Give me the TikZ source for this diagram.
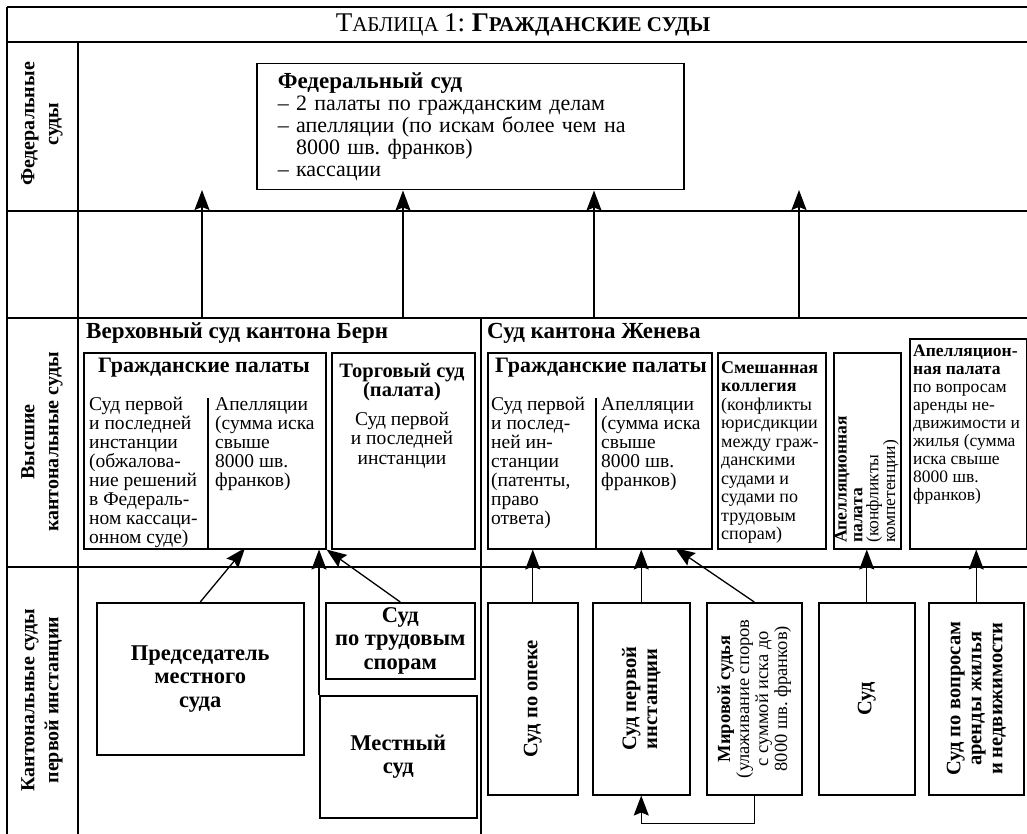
\documentclass[tikz,border=0pt]{standalone}
\usepackage{fontspec}
\setmainfont{Liberation Serif}
\usetikzlibrary{arrows.meta}
\newcommand{\fs}[2]{\fontsize{#1}{#2}\selectfont}
\begin{document}
\frenchspacing
\begin{tikzpicture}[x=1pt,y=-1pt,
  frame/.style={line width=1.6pt},
  box/.style={draw, line width=1.5pt, inner sep=0pt, anchor=north west},
  div/.style={line width=1.2pt},
  arr/.style={line width=1.3pt, -{Stealth[length=20pt,width=15pt,inset=3pt]}},
  body/.style={font=\fs{19.5}{19}, align=left, inner sep=0pt, anchor=north west},
  head/.style={font=\bfseries\fs{23}{23}, inner sep=0pt, anchor=west},
  title2/.style={font=\bfseries\fs{22}{22}, inner sep=0pt},
  side/.style={rotate=90, font=\bfseries\fs{20}{24}, align=center, inner sep=0pt},
  bigb/.style={font=\bfseries\fs{22.5}{23.5}, align=center},
  rl/.style={rotate=90, font=\bfseries\fs{20.5}{21}, align=center, inner sep=0pt}
]
\useasboundingbox (0,0) rectangle (1027,834);

% table frame
\draw[frame] (7,7) -- (1027,7);
\draw[frame] (7,42) -- (1027,42);
\draw[frame] (7,211) -- (1027,211);
\draw[frame] (7,318) -- (1027,318);
\draw[frame] (7,567) -- (1027,567);
\draw[frame] (7,7) -- (7,834);
\draw[frame] (78,42) -- (78,834);
\draw[frame] (481,318) -- (481,834);

% title
\node[inner sep=0pt] (title) at (523,25) {\fs{27}{27}Т\fs{21}{21}АБЛИЦА \fs{27}{27}1: \bfseries Г\fs{21}{21}РАЖДАНСКИЕ СУДЫ};

% side labels
\node[side] (sfed) at (42,124) {Федеральные\\суды};
\node[side] (shigh) at (42,442) {Высшие\\кантональные суды};
\node[side] (sfirst) at (42,700) {Кантональные суды\\первой инстанции};

% federal court
\node[box, minimum width=427pt, minimum height=126pt, text width=385pt, inner xsep=21pt, align=left, font=\fs{22}{22}] (fed) at (256,63)
 {\textbf{\fs{23}{22}Федеральный суд}\\– 2 палаты по гражданским делам\\– апелляции (по искам более чем на\\\phantom{– }8000 шв. франков)\\– кассации};

\coordinate (fa1) at (202,318); \coordinate (fa1t) at (202,190);
\coordinate (fa2) at (403,318);
\coordinate (fa3) at (594,318);
\coordinate (fa4) at (799,318); \coordinate (fa4t) at (799,190);
\draw[arr] (fa1) -- (fa1t);
\draw[arr] (fa2) -- (fa2 |- fed.south);
\draw[arr] (fa3) -- (fa3 |- fed.south);
\draw[arr] (fa4) -- (fa4t);

% Bern
\node[head] (bern) at (86,333) {Верховный суд кантона Берн};
\node[box, minimum width=242pt, minimum height=196pt] (bciv) at (83,352) {};
\node[title2] (bcivt) at (204,368) {Гражданские палаты};
\draw[div] (208,398) -- (208,548);
\node[body] (bcl) at (89,397) {Суд первой\\и последней\\инстанции\\(обжалова-\\ние решений\\в Федераль-\\ном кассаци-\\онном суде)};
\node[body] (bcr) at (215,397) {Апелляции\\(сумма иска\\свыше\\8000 шв.\\франков)};

\node[box, minimum width=143pt, minimum height=196pt] (trade) at (331,352) {};
\node[font=\fs{19.5}{19.5}, align=center, inner sep=0pt, anchor=north] (tradet) at (402,363)
 {\textbf{\fs{20.5}{19.5}Торговый суд}\\\textbf{\fs{20.5}{19.5}(палата)}\\[9pt]Суд первой\\и последней\\инстанции};

% Geneva
\node[head] (gen) at (487,333) {Суд кантона Женева};
\node[box, minimum width=224pt, minimum height=196pt] (gciv) at (487,352) {};
\node[title2] (gcivt) at (601,368) {Гражданские палаты};
\draw[div] (596,398) -- (596,548);
\node[body] (gcl) at (491,397) {Суд первой\\и послед-\\ней ин-\\станции\\(патенты,\\право\\ответа)};
\node[body] (gcr) at (601,397) {Апелляции\\(сумма иска\\свыше\\8000 шв.\\франков)};

\node[box, minimum width=108pt, minimum height=196pt] (mixed) at (717,352) {};
\node[body, font=\fs{18}{18.5}] (mixedt) at (721,361)
 {\textbf{Смешанная}\\\textbf{коллегия}\\(конфликты\\юрисдикции\\между граж-\\данскими\\судами и\\судами по\\трудовым\\спорам)};

\node[box, minimum width=67pt, minimum height=196pt] (apl) at (833,352) {};
\node[rotate=90, anchor=west, align=left, font=\fs{17.5}{15.8}, inner sep=0pt] (aplt) at (867,543)
 {\textbf{Апелляционная}\\\textbf{палата}\\(конфликты\\компетенции)};

\node[box, minimum width=117pt, minimum height=210pt] (rapl) at (909,338) {};
\node[body, font=\fs{17.5}{18}] (raplt) at (913,345)
 {\textbf{Апелляцион-}\\\textbf{ная палата}\\по вопросам\\аренды не-\\движимости и\\жилья (сумма\\иска свыше\\8000 шв.\\франков)};

% Bern first instance
\node[box, bigb, minimum width=207pt, minimum height=152pt] (pres) at (96,602) {Председатель\\местного\\суда};
\node[box, bigb, minimum width=149pt, minimum height=76pt] (trud) at (325,602) {Суд\\по трудовым\\спорам};
\node[box, bigb, minimum width=157pt, minimum height=122pt] (mest) at (319,695) {Местный\\суд};

\coordinate (bt1) at (245,548);
\draw[arr] (pres.north) -- (bt1);
\draw[arr] (mest.north west) -- (mest.north west |- bciv.south);
\draw[arr] (trud.north) -- (bciv.south east);

% Geneva first instance
\node[box, minimum width=90pt, minimum height=192pt, label={[rl]center:Суд по опеке}] (opeka) at (487,602) {};
\node[box, minimum width=97pt, minimum height=192pt, label={[rl]center:{Суд первой\\инстанции}}] (first) at (592,602) {};
\node[box, minimum width=95pt, minimum height=192pt, label={[rl, font=\fs{18.5}{19}]center:{\textbf{Мировой судья}\\(улаживание споров\\с суммой иска до\\8000 шв. франков)}}] (mir) at (706,602) {};
\node[box, minimum width=96pt, minimum height=192pt, label={[rl]center:Суд}] (sud) at (818,602) {};
\node[box, minimum width=95pt, minimum height=192pt, label={[rl]center:{Суд по вопросам\\аренды жилья\\и недвижимости}}] (arenda) at (928,602) {};

\coordinate (gt3) at (675,548);
\draw[arr] (opeka.north) -- (opeka.north |- gciv.south);
\draw[arr] (first.north) -- (first.north |- gciv.south);
\draw[arr] (mir.north) -- (gt3);
\draw[arr] (sud.north) -- (sud.north |- apl.south);
\draw[arr] (arenda.north) -- (arenda.north |- rapl.south);
\draw[arr] (mir.south) -- ++(0,28) -| (first.south);
\end{tikzpicture}
\end{document}
